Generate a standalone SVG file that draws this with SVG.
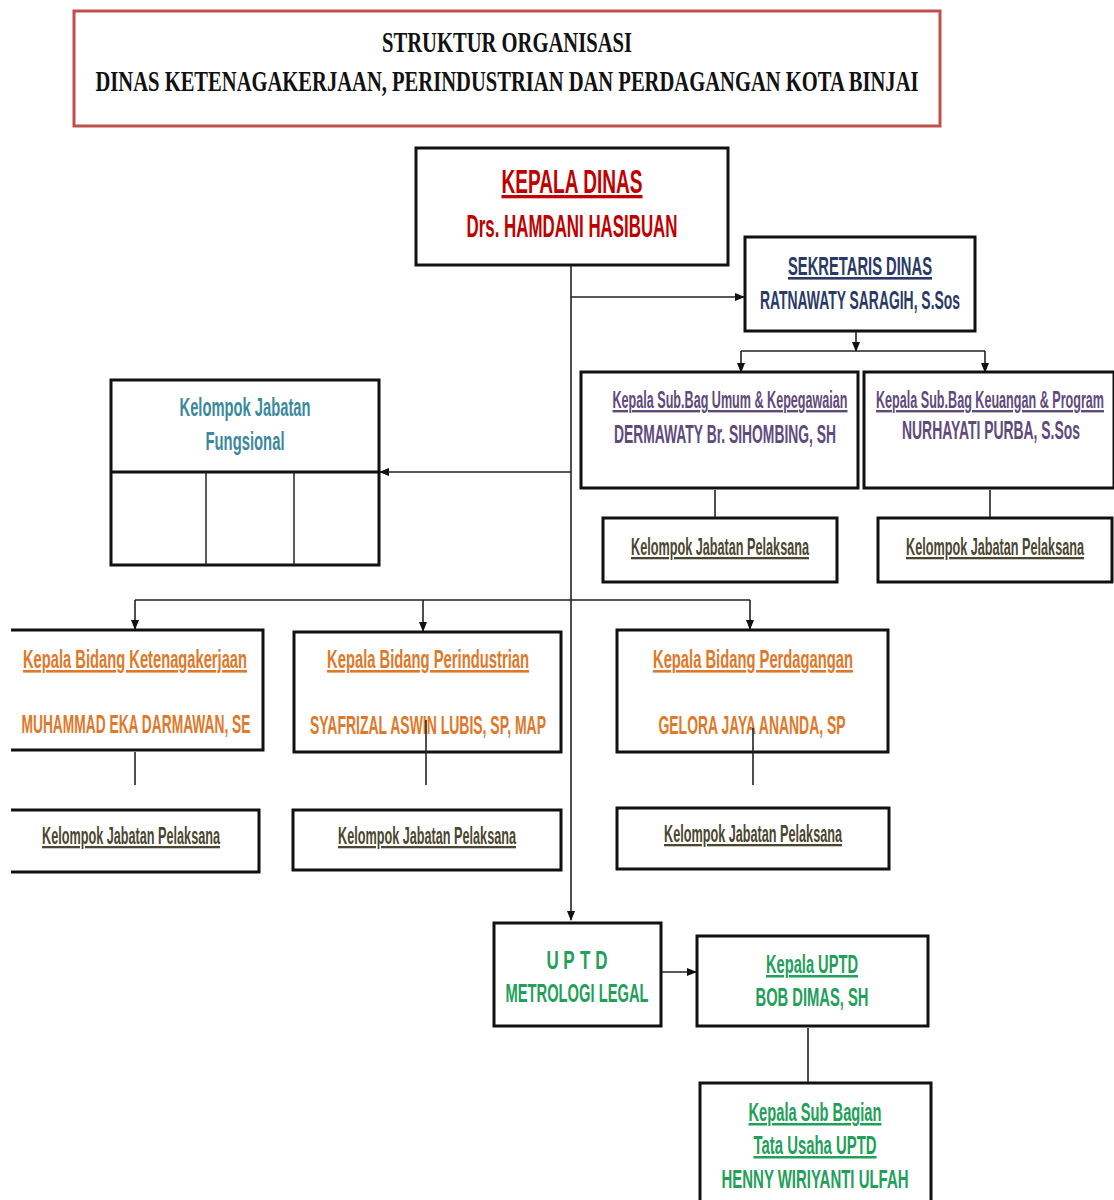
<svg xmlns="http://www.w3.org/2000/svg" width="1114" height="1200" viewBox="0 0 1114 1200">
<defs>
<marker id="arr" markerWidth="10" markerHeight="8" refX="9" refY="4" orient="auto" markerUnits="userSpaceOnUse"><path d="M0,0 L10,4 L0,8 Z" fill="#111"/></marker>
<style>
.box{fill:#fff;stroke:#111;stroke-width:3}
.t{font-family:"Liberation Sans",Arial,sans-serif;font-weight:bold;text-anchor:middle}
.u{text-decoration:underline}
.ttl{font-family:"Liberation Serif","Times New Roman",serif;font-weight:bold;text-anchor:middle;font-size:30px;fill:#111}
.con{fill:none;stroke:#222;stroke-width:1.6}
.red{fill:#c00000}.navy{fill:#2a3a66}.pur{fill:#5f4a7c}.olive{fill:#4a4630}.teal{fill:#3a8a9e}.org{fill:#e0782a}.grn{fill:#22a05a}
</style>
</defs>
<rect width="1114" height="1200" fill="#fff"/>
<g id="title">
<rect x="74" y="11" width="866" height="115" fill="#fff" stroke="#c0504d" stroke-width="3"/>
<text class="ttl" x="507" y="52" textLength="250" lengthAdjust="spacingAndGlyphs">STRUKTUR ORGANISASI</text>
<text class="ttl" x="507" y="91" textLength="823" lengthAdjust="spacingAndGlyphs">DINAS KETENAGAKERJAAN, PERINDUSTRIAN DAN PERDAGANGAN KOTA BINJAI</text>
</g>
<g id="kepala-dinas">
<rect class="box" x="416" y="148" width="312" height="117"/>
<text class="t u red" x="572" y="193" font-size="33" textLength="141" lengthAdjust="spacingAndGlyphs">KEPALA DINAS</text>
<text class="t red" x="572" y="237" font-size="31" textLength="211" lengthAdjust="spacingAndGlyphs">Drs. HAMDANI HASIBUAN</text>
</g>
<g id="sekretaris">
<rect class="box" x="745" y="237" width="230" height="94"/>
<text class="t u navy" x="860" y="275" font-size="26" textLength="144" lengthAdjust="spacingAndGlyphs">SEKRETARIS DINAS</text>
<text class="t navy" x="860" y="309" font-size="26" textLength="200" lengthAdjust="spacingAndGlyphs">RATNAWATY SARAGIH, S.Sos</text>
</g>
<g id="subbag-umum">
<rect class="box" x="581" y="372" width="277" height="116"/>
<text class="t u pur" x="730" y="408" font-size="24" textLength="235" lengthAdjust="spacingAndGlyphs">Kepala Sub.Bag Umum &amp; Kepegawaian</text>
<text class="t pur" x="725" y="443" font-size="26" textLength="222" lengthAdjust="spacingAndGlyphs">DERMAWATY Br. SIHOMBING, SH</text>
</g>
<g id="subbag-keuangan">
<rect class="box" x="864" y="372" width="250" height="116"/>
<text class="t u pur" x="990" y="408" font-size="24" textLength="228" lengthAdjust="spacingAndGlyphs">Kepala Sub.Bag Keuangan &amp; Program</text>
<text class="t pur" x="991" y="439" font-size="26" textLength="178" lengthAdjust="spacingAndGlyphs">NURHAYATI PURBA, S.Sos</text>
</g>
<g id="pelaksana-umum">
<rect class="box" x="603" y="518" width="234" height="64"/>
<text class="t u olive" x="720" y="555" font-size="23" textLength="178" lengthAdjust="spacingAndGlyphs">Kelompok Jabatan Pelaksana</text>
</g>
<g id="pelaksana-keuangan">
<rect class="box" x="878" y="518" width="234" height="64"/>
<text class="t u olive" x="995" y="555" font-size="23" textLength="178" lengthAdjust="spacingAndGlyphs">Kelompok Jabatan Pelaksana</text>
</g>
<g id="fungsional">
<rect class="box" x="111" y="380" width="268" height="185"/>
<line x1="111" y1="472" x2="379" y2="472" stroke="#111" stroke-width="3"/>
<line x1="206" y1="472" x2="206" y2="565" stroke="#222" stroke-width="1.5"/>
<line x1="294" y1="472" x2="294" y2="565" stroke="#222" stroke-width="1.5"/>
<text class="t teal" x="245" y="416" font-size="25" textLength="131" lengthAdjust="spacingAndGlyphs">Kelompok Jabatan</text>
<text class="t teal" x="245" y="450" font-size="25" textLength="79" lengthAdjust="spacingAndGlyphs">Fungsional</text>
</g>
<g id="bidang-ketenagakerjaan">
<path d="M11,630 H263 V750 H11" fill="#fff" stroke="#111" stroke-width="3"/>
<text class="t u org" x="135" y="668" font-size="26" textLength="224" lengthAdjust="spacingAndGlyphs">Kepala Bidang Ketenagakerjaan</text>
<text class="t org" x="136" y="733" font-size="25" textLength="229" lengthAdjust="spacingAndGlyphs">MUHAMMAD EKA DARMAWAN, SE</text>
</g>
<g id="bidang-perindustrian">
<rect class="box" x="294" y="632" width="267" height="120"/>
<text class="t u org" x="428" y="668" font-size="26" textLength="202" lengthAdjust="spacingAndGlyphs">Kepala Bidang Perindustrian</text>
<text class="t org" x="428" y="734" font-size="25" textLength="236" lengthAdjust="spacingAndGlyphs">SYAFRIZAL ASWIN LUBIS, SP, MAP</text>
</g>
<g id="bidang-perdagangan">
<rect class="box" x="617" y="630" width="271" height="122"/>
<text class="t u org" x="753" y="668" font-size="26" textLength="200" lengthAdjust="spacingAndGlyphs">Kepala Bidang Perdagangan</text>
<text class="t org" x="752" y="734" font-size="25" textLength="187" lengthAdjust="spacingAndGlyphs">GELORA JAYA ANANDA, SP</text>
</g>
<g id="pelaksana-ketenagakerjaan">
<path d="M11,810 H259 V872 H11" fill="#fff" stroke="#111" stroke-width="3"/>
<text class="t u olive" x="131" y="844" font-size="23" textLength="178" lengthAdjust="spacingAndGlyphs">Kelompok Jabatan Pelaksana</text>
</g>
<g id="pelaksana-perindustrian">
<rect class="box" x="293" y="810" width="268" height="60"/>
<text class="t u olive" x="427" y="844" font-size="23" textLength="178" lengthAdjust="spacingAndGlyphs">Kelompok Jabatan Pelaksana</text>
</g>
<g id="pelaksana-perdagangan">
<rect class="box" x="617" y="808" width="272" height="61"/>
<text class="t u olive" x="753" y="842" font-size="23" textLength="178" lengthAdjust="spacingAndGlyphs">Kelompok Jabatan Pelaksana</text>
</g>
<g id="uptd">
<rect class="box" x="494" y="923" width="167" height="103"/>
<text class="t grn" transform="translate(577,969) scale(0.68,1)" x="-36 -12 12 36" y="0" font-size="25">UPTD</text>
<text class="t grn" x="577" y="1002" font-size="25" textLength="143" lengthAdjust="spacingAndGlyphs">METROLOGI LEGAL</text>
</g>
<g id="kepala-uptd">
<rect class="box" x="697" y="936" width="231" height="90"/>
<text class="t u grn" x="812" y="973" font-size="25" textLength="92" lengthAdjust="spacingAndGlyphs">Kepala UPTD</text>
<text class="t grn" x="812" y="1006" font-size="25" textLength="113" lengthAdjust="spacingAndGlyphs">BOB DIMAS, SH</text>
</g>
<g id="subbag-tu-uptd">
<rect class="box" x="700" y="1083" width="231" height="130"/>
<text class="t u grn" x="815" y="1121" font-size="25" textLength="133" lengthAdjust="spacingAndGlyphs">Kepala Sub Bagian</text>
<text class="t u grn" x="815" y="1154" font-size="25" textLength="123" lengthAdjust="spacingAndGlyphs">Tata Usaha UPTD</text>
<text class="t grn" x="815" y="1188" font-size="25" textLength="187" lengthAdjust="spacingAndGlyphs">HENNY WIRIYANTI ULFAH</text>
</g>
<g id="connectors">
<path class="con" d="M571,265 V920" marker-end="url(#arr)"/>
<path class="con" d="M571,297 H744" marker-end="url(#arr)"/>
<path class="con" d="M856,332 V351" marker-end="url(#arr)"/>
<path class="con" d="M741,351 H985"/>
<path class="con" d="M741,351 V372" marker-end="url(#arr)"/>
<path class="con" d="M985,351 V372" marker-end="url(#arr)"/>
<path class="con" d="M715,490 V517"/>
<path class="con" d="M990,490 V517"/>
<path class="con" d="M571,472 H380" marker-end="url(#arr)"/>
<path class="con" d="M135,600 H750"/>
<path class="con" d="M135,600 V629" marker-end="url(#arr)"/>
<path class="con" d="M423,600 V631" marker-end="url(#arr)"/>
<path class="con" d="M750,600 V629" marker-end="url(#arr)"/>
<path class="con" d="M135,752 V785"/>
<path class="con" d="M426,720 V785"/>
<path class="con" d="M753,728 V785"/>
<path class="con" d="M662,972 H696" marker-end="url(#arr)"/>
<path class="con" d="M808,1028 V1082"/>
</g>
</svg>
